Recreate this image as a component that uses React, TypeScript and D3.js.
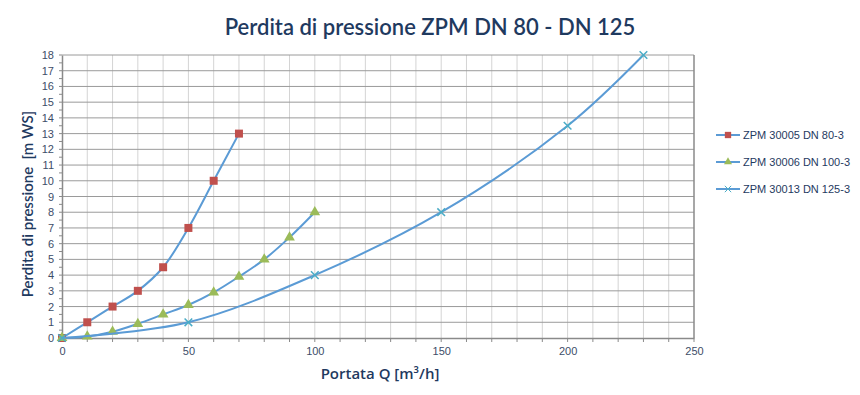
import React, { useEffect, useRef } from 'react'
import * as d3 from 'd3'

// dati
const seriesNames = ['ZPM 30005 DN 80-3', 'ZPM 30006 DN 100-3', 'ZPM 30013 DN 125-3']
const flowA = [0, 10, 20, 30, 40, 50, 60, 70]
const lossA = [0, 1, 2, 3, 4.5, 7, 10, 13]
const flowB = [0, 10, 20, 30, 40, 50, 60, 70, 80, 90, 100]
const lossB = [0, 0.1, 0.4, 0.9, 1.5, 2.1, 2.9, 3.9, 5, 6.4, 8]
const flowC = [0, 50, 100, 150, 200, 230]
const lossC = [0, 1, 4, 8, 13.5, 18]
const xTicks = [0, 50, 100, 150, 200, 250]
const yTicks = d3.range(0, 19, 1)

const lineColor = '#5B9BD5'
const markerColors = ['#C0504D', '#9BBB59', '#4BACC6']
const navy = '#1F3A5F'

export default function App() {
  const ref = useRef<SVGSVGElement>(null)

  useEffect(() => {
    const svg = d3.select(ref.current)
    svg.selectAll('*').remove()

    const width = 860, height = 395
    const plot = { left: 62, right: 694, top: 55, bottom: 338 }

    const x = d3.scaleLinear().domain([0, 250]).range([plot.left, plot.right])
    const y = d3.scaleLinear().domain([0, 18]).range([plot.bottom, plot.top])

    svg.append('rect').attr('width', width).attr('height', height).attr('fill', '#fff')

    // titolo
    svg.append('text')
      .attr('x', 430).attr('y', 35)
      .attr('text-anchor', 'middle')
      .attr('font-family', 'Lato, sans-serif')
      .attr('font-size', 22)
      .attr('font-weight', 600)
      .attr('fill', navy)
      .text('Perdita di pressione ZPM DN 80 - DN 125')

    // griglia verticale
    svg.append('g').selectAll('line')
      .data(d3.range(10, 250, 10))
      .enter().append('line')
      .attr('x1', d => x(d)).attr('x2', d => x(d))
      .attr('y1', plot.top).attr('y2', plot.bottom)
      .attr('stroke', '#d4d4d4').attr('stroke-width', 1)

    // griglia orizzontale
    svg.append('g').selectAll('line')
      .data(d3.range(1, 19, 1))
      .enter().append('line')
      .attr('x1', plot.left).attr('x2', plot.right)
      .attr('y1', d => y(d)).attr('y2', d => y(d))
      .attr('stroke', '#9a9a9a').attr('stroke-width', 1)

    // bordo destro
    svg.append('line')
      .attr('x1', plot.right).attr('x2', plot.right)
      .attr('y1', plot.top).attr('y2', plot.bottom)
      .attr('stroke', '#8a8a8a').attr('stroke-width', 1.5)

    // asse x
    const xAxis = d3.axisBottom(x).tickValues(xTicks).tickSize(0).tickPadding(9)
    const gx = svg.append('g').attr('transform', `translate(0,${plot.bottom})`).call(xAxis)
    gx.select('.domain').attr('stroke', '#8a8a8a').attr('stroke-width', 1.5)
    gx.selectAll('text').attr('font-family', 'Liberation Sans, Arial, sans-serif')
      .attr('font-size', 11).attr('fill', '#3d4d68')
    svg.append('g').selectAll('line')
      .data(d3.range(10, 251, 10))
      .enter().append('line')
      .attr('x1', d => x(d)).attr('x2', d => x(d))
      .attr('y1', plot.bottom).attr('y2', plot.bottom + 4)
      .attr('stroke', '#8a8a8a')

    // asse y
    const yAxis = d3.axisLeft(y).tickValues(yTicks).tickSize(0).tickPadding(8)
    const gy = svg.append('g').attr('transform', `translate(${plot.left},0)`).call(yAxis)
    gy.select('.domain').attr('stroke', '#8a8a8a').attr('stroke-width', 1.5)
    gy.selectAll('text').attr('font-family', 'Liberation Sans, Arial, sans-serif')
      .attr('font-size', 11).attr('fill', '#3d4d68')
    svg.append('g').selectAll('line')
      .data(d3.range(0, 18.01, 0.5))
      .enter().append('line')
      .attr('x1', plot.left - 3).attr('x2', plot.left)
      .attr('y1', d => y(d)).attr('y2', d => y(d))
      .attr('stroke', '#8a8a8a')

    // titoli assi
    svg.append('text')
      .attr('transform', `translate(33,204) rotate(-90)`)
      .attr('text-anchor', 'middle')
      .attr('font-family', 'Lato, sans-serif')
      .attr('font-size', 15).attr('font-weight', 600)
      .attr('fill', navy)
      .style('white-space', 'pre')
      .text('Perdita di pressione  [m WS]')

    svg.append('text')
      .attr('x', 380).attr('y', 379)
      .attr('text-anchor', 'middle')
      .attr('font-family', '"Open Sans", sans-serif')
      .attr('font-size', 15).attr('font-weight', 600)
      .attr('fill', navy)
      .text('Portata Q [m³/h]')

    const allSeries = [
      flowA.map((f, i) => [f, lossA[i]] as [number, number]),
      flowB.map((f, i) => [f, lossB[i]] as [number, number]),
      flowC.map((f, i) => [f, lossC[i]] as [number, number]),
    ]

    const line = d3.line<[number, number]>()
      .x(d => x(d[0])).y(d => y(d[1]))
      .curve(d3.curveCatmullRom.alpha(0.5))

    const symbolTypes = [d3.symbolSquare, d3.symbolTriangle, d3.symbolX]
    const symbolSizes = [64, 50, 40]

    allSeries.forEach((pts, s) => {
      svg.append('path')
        .attr('d', line(pts))
        .attr('fill', 'none')
        .attr('stroke', lineColor)
        .attr('stroke-width', 2)
      svg.append('g').selectAll('path')
        .data(pts)
        .enter().append('path')
        .attr('transform', d => `translate(${x(d[0])},${y(d[1])})`)
        .attr('d', d3.symbol().type(symbolTypes[s]).size(symbolSizes[s])()!)
        .attr('fill', markerColors[s])
        .attr('stroke', s === 2 ? markerColors[s] : 'none')
        .attr('stroke-width', 1.5)
    })

    // legenda
    const legend = svg.append('g').attr('transform', 'translate(716,135)')
    seriesNames.forEach((name, i) => {
      const g = legend.append('g').attr('transform', `translate(0,${i * 27})`)
      g.append('line').attr('x1', 0).attr('x2', 24).attr('y1', 0).attr('y2', 0)
        .attr('stroke', lineColor).attr('stroke-width', 2)
      g.append('path').attr('transform', 'translate(12,0)')
        .attr('d', d3.symbol().type(symbolTypes[i]).size(i === 0 ? 40 : 28)()!)
        .attr('fill', markerColors[i])
        .attr('stroke', i === 2 ? markerColors[i] : 'none')
      g.append('text').attr('x', 27).attr('y', 4)
        .attr('font-family', 'Liberation Sans, Arial, sans-serif')
        .attr('font-size', 11).attr('fill', navy)
        .text(name)
    })
  }, [])

  return <svg ref={ref} width={860} height={395} style={{ display: 'block', position: 'absolute', left: 0, top: 0 }} />
}
